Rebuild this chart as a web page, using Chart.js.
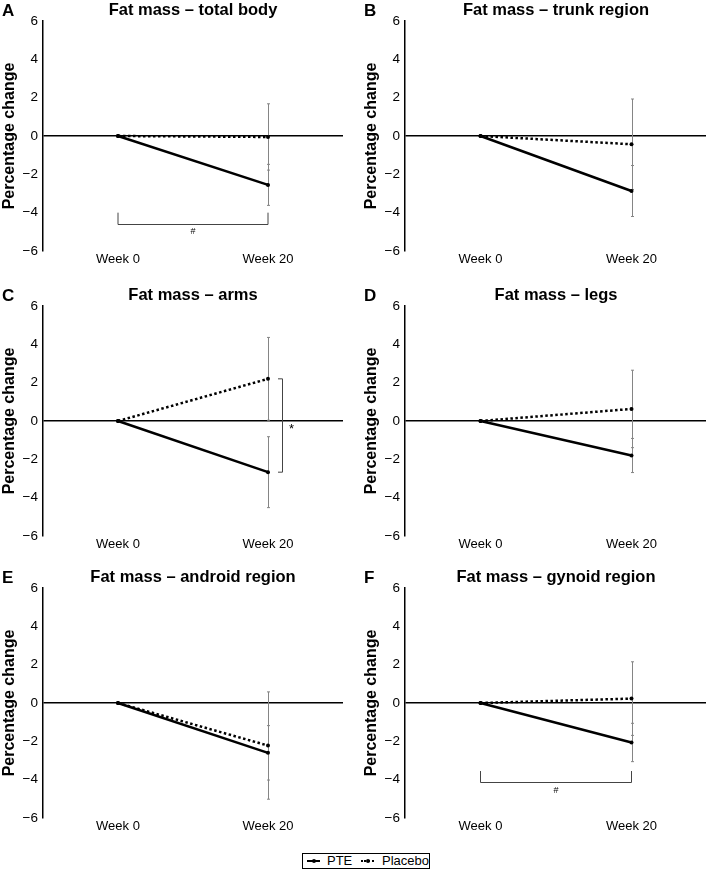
<!DOCTYPE html>
<html>
<head>
<meta charset="utf-8">
<script src="https://cdn.jsdelivr.net/npm/chart.js@4.4.1/dist/chart.umd.min.js"></script>
<style>
  body { margin: 0; background: #fff; width: 706px; height: 873px; position: relative; overflow: hidden;
         font-family: 'Liberation Sans', Arial, sans-serif; }
  .panel { position: absolute; }
  #legend { position: absolute; left: 302px; top: 853px; width: 126px; height: 14px;
            border: 1px solid #000; font-size: 13px; line-height: 14px; color: #000; }
  #legend span { position: absolute; top: 0; }
  .sw { width: 13px; height: 14px; }
  .sw::before { content: ''; position: absolute; left: 0; right: 0; top: 6px; border-top: 2.5px solid #000; }
  .sw.dot::before { border-top-style: dotted; }
  .sw i { position: absolute; left: 5px; top: 5px; width: 4px; height: 4px; border-radius: 50%; background: #000; }
</style>
</head>
<body>
<div class="panel" style="left:0;top:0"><canvas id="chartA" width="353" height="275"></canvas></div>
<div class="panel" style="left:362px;top:0"><canvas id="chartB" width="349" height="275"></canvas></div>
<div class="panel" style="left:0;top:285px"><canvas id="chartC" width="353" height="275"></canvas></div>
<div class="panel" style="left:362px;top:285px"><canvas id="chartD" width="349" height="275"></canvas></div>
<div class="panel" style="left:0;top:567px"><canvas id="chartE" width="353" height="275"></canvas></div>
<div class="panel" style="left:362px;top:567px"><canvas id="chartF" width="349" height="275"></canvas></div>
<div id="legend">
  <span class="sw" style="left:4px"><i></i></span><span style="left:24px">PTE</span>
  <span class="sw dot" style="left:58px"><i></i></span><span style="left:79px">Placebo</span>
</div>
<script>
// data (percentage change from week 0)
const weeks = ['Week 0', 'Week 20'];
const panelIds = ['chartA', 'chartB', 'chartC', 'chartD', 'chartE', 'chartF'];
const panelLetters = ['A', 'B', 'C', 'D', 'E', 'F'];
const panelTitles = [
    'Fat mass \u2013 total body',
    'Fat mass \u2013 trunk region',
    'Fat mass \u2013 arms',
    'Fat mass \u2013 legs',
    'Fat mass \u2013 android region',
    'Fat mass \u2013 gynoid region'
];
const pteMean = [[0, -2.55], [0, -2.87], [0, -2.67], [0, -1.80], [0, -2.60], [0, -2.06]];
const pteSd = [[0, 1.07], [0, 1.33], [0, 1.85], [0, 0.89], [0, 1.42], [0, 1.00]];
const placeboMean = [[0, -0.05], [0, -0.43], [0, 2.20], [0, 0.63], [0, -2.22], [0, 0.23]];
const placeboSd = [[0, 1.73], [0, 2.36], [0, 2.16], [0, 2.02], [0, 2.80], [0, 1.92]];
const yMin = -6, yMax = 6, yStep = 2;

// significance marks: '#' = within-group change, '*' = between groups
const brackets = [
    { type: 'under', top: -4.0, bottom: -4.6, label: '#', labelAt: -5.0 },
    null,
    { type: 'side', label: '*' },
    null,
    null,
    { type: 'under', top: -3.55, bottom: -4.1, label: '#', labelAt: -4.55 }
];

Chart.defaults.font.family = "'Liberation Sans', Arial, sans-serif";
Chart.defaults.color = '#000';

// vertical SD bars at each point
const errorBars = {
    id: 'errorBars',
    beforeDatasetsDraw(chart) {
        const { ctx, scales: { x, y } } = chart;
        ctx.save();
        ctx.strokeStyle = '#858585';
        ctx.lineWidth = 1;
        chart.data.datasets.forEach(ds => {
            ds.sd.forEach((s, i) => {
                if (!s) return;
                const px = Math.round(x.getPixelForValue(i)) + 0.5;
                const top = y.getPixelForValue(ds.data[i] + s);
                const bot = y.getPixelForValue(ds.data[i] - s);
                ctx.beginPath();
                ctx.moveTo(px, top); ctx.lineTo(px, bot);
                ctx.moveTo(px - 1.5, top); ctx.lineTo(px + 1.5, top);
                ctx.moveTo(px - 1.5, bot); ctx.lineTo(px + 1.5, bot);
                ctx.stroke();
            });
        });
        ctx.restore();
    }
};

// brackets with # or *
const bracketMarks = {
    id: 'bracketMarks',
    afterDatasetsDraw(chart, args, opts) {
        const b = opts.mark;
        if (!b) return;
        const { ctx, scales: { x, y } } = chart;
        ctx.save();
        ctx.strokeStyle = '#444';
        ctx.lineWidth = 1;
        ctx.fillStyle = '#000';
        if (b.type === 'under') {
            const x0 = x.getPixelForValue(0), x1 = x.getPixelForValue(1);
            const yt = y.getPixelForValue(b.top), yb = Math.round(y.getPixelForValue(b.bottom)) + 0.5;
            ctx.beginPath();
            ctx.moveTo(x0, yt); ctx.lineTo(x0, yb); ctx.lineTo(x1, yb); ctx.lineTo(x1, yt);
            ctx.stroke();
            ctx.font = '9px "Liberation Sans", Arial, sans-serif';
            ctx.textAlign = 'center';
            ctx.textBaseline = 'middle';
            ctx.fillText(b.label, (x0 + x1) / 2, y.getPixelForValue(b.labelAt));
        } else {
            const ds = chart.data.datasets;
            const px = x.getPixelForValue(1);
            const bx = Math.round(px + 14) + 0.5;
            const y0 = y.getPixelForValue(ds[1].data[1]);
            const y1 = y.getPixelForValue(ds[0].data[1]);
            ctx.beginPath();
            ctx.moveTo(bx - 4.5, y0); ctx.lineTo(bx, y0); ctx.lineTo(bx, y1); ctx.lineTo(bx - 4.5, y1);
            ctx.stroke();
            ctx.font = '13px "Liberation Sans", Arial, sans-serif';
            ctx.textAlign = 'center';
            ctx.textBaseline = 'middle';
            ctx.fillText(b.label, bx + 9, (y0 + y1) / 2 + 4);
        }
        ctx.restore();
    }
};

// panel letter in the top-left corner
const panelLetter = {
    id: 'panelLetter',
    afterDraw(chart, args, opts) {
        const ctx = chart.ctx;
        ctx.save();
        ctx.font = 'bold 17px "Liberation Sans", Arial, sans-serif';
        ctx.fillStyle = '#000';
        ctx.textBaseline = 'alphabetic';
        ctx.fillText(opts.text, 2, 16);
        ctx.restore();
    }
};

const fmtTick = v => (v < 0 ? '\u2212' + Math.abs(v) : String(v));

panelIds.forEach((id, k) => {
    const leftCol = k % 2 === 0;
    new Chart(document.getElementById(id), {
        type: 'line',
        data: {
            labels: weeks,
            datasets: [{
                label: 'PTE',
                data: pteMean[k],
                sd: pteSd[k],
                borderColor: '#000',
                backgroundColor: '#000',
                borderWidth: 2.5,
                pointRadius: 2,
                pointBorderWidth: 0,
                order: 1
            }, {
                label: 'Placebo',
                data: placeboMean[k],
                sd: placeboSd[k],
                borderColor: '#000',
                backgroundColor: '#000',
                borderWidth: 2.5,
                borderDash: [2.5, 2.5],
                pointRadius: 2,
                pointBorderWidth: 0,
                order: 2
            }]
        },
        options: {
            responsive: false,
            animation: false,
            layout: { padding: { left: 0, right: leftCol ? 10 : 0, top: 0, bottom: 0 } },
            plugins: {
                legend: { display: false },
                tooltip: { enabled: false },
                title: {
                    display: true,
                    text: panelTitles[k],
                    fullSize: false,
                    font: { size: 16.5, weight: 'bold' },
                    padding: { top: 0.8, bottom: 0.4 }
                },
                panelLetter: { text: panelLetters[k] },
                bracketMarks: { mark: brackets[k] }
            },
            scales: {
                x: {
                    offset: true,
                    grid: { display: false, drawTicks: false },
                    border: { display: false },
                    ticks: { font: { size: 13 }, padding: 1 },
                    afterFit: s => { s.height = 24; }
                },
                y: {
                    min: yMin,
                    max: yMax,
                    ticks: { stepSize: yStep, font: { size: 13.5 }, padding: 5, callback: fmtTick },
                    grid: {
                        drawTicks: false,
                        color: c => (c.tick && c.tick.value === 0 ? '#000' : 'rgba(0,0,0,0)'),
                        lineWidth: 1.5
                    },
                    border: { display: true, color: '#000', width: 1.5 },
                    title: {
                        display: true,
                        text: 'Percentage change',
                        font: { size: 16, weight: 'bold' },
                        padding: { top: 0, bottom: 0 }
                    },
                    afterFit: s => { s.width = 43; }
                }
            }
        },
        plugins: [errorBars, bracketMarks, panelLetter]
    });
});
</script>
</body>
</html>
